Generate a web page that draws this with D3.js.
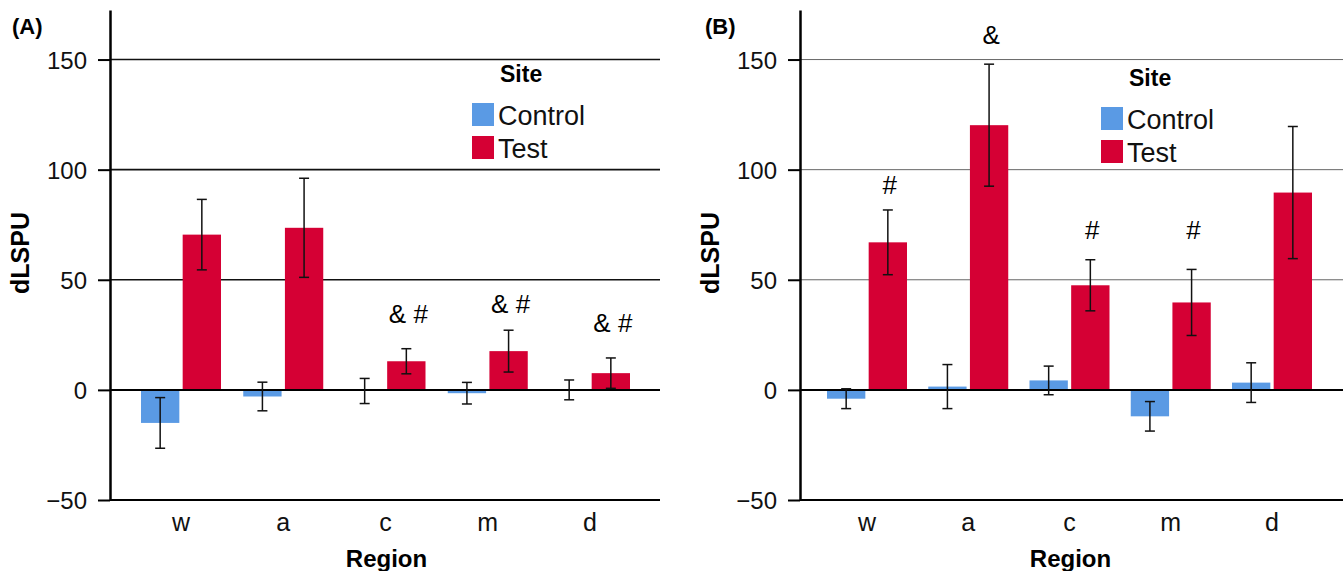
<!DOCTYPE html>
<meta charset="utf-8">
<script src="https://d3js.org/d3.v7.min.js"></script>
<style>
  body { margin: 0; background: #fff; }
  text { font-family: "Liberation Sans", Arial, sans-serif; }
</style>
<div id="my_dataviz"></div>
<script>

// data
var regions = ["w", "a", "c", "m", "d"];
var sites = ["Control", "Test"];
var yTicks = [-50, 0, 50, 100, 150];

// panel A
var controlA    = [-15, -3, -0.5, -1.5, 0];
var controlErrA = [11.5, 6.5, 5.7, 4.9, 4.5];
var testA       = [70.5, 73.6, 13, 17.6, 7.6];
var testErrA    = [16, 22.5, 5.7, 9.5, 6.9];
var marksA      = ["", "", "& #", "& #", "& #"];
var markLevelA  = [0, 0, 30.5, 35, 26.4];

// panel B
var controlB    = [-4, 1.5, 4.3, -12, 3.3];
var controlErrB = [4.5, 10, 6.5, 6.7, 9];
var testB       = [67, 120.2, 47.5, 39.7, 89.6];
var testErrB    = [14.7, 27.7, 11.6, 15, 30];
var marksB      = ["#", "&", "#", "#", ""];
var markLevelB  = [88.8, 157, 68.4, 68.4, 0];

var colors = {Control: "#5a9ae4", Test: "#d50034"};

var svg = d3.select("#my_dataviz")
  .append("svg")
    .attr("width", 1343)
    .attr("height", 571);

function drawPanel(p) {
  var g = svg.append("g");

  var y = d3.scaleLinear()
    .domain([-50, 172.5])
    .range([500, 10]);

  var x = d3.scalePoint()
    .domain(regions)
    .range([p.first, p.last]);

  var x1 = d3.scaleBand()
    .domain(sites)
    .range([-40, 40])
    .paddingInner(0.08);

  // horizontal grid lines
  g.append("g")
    .selectAll("line")
    .data([50, 100, 150])
    .enter()
    .append("line")
      .attr("x1", p.left).attr("x2", p.right)
      .attr("y1", function (d) { return y(d); })
      .attr("y2", function (d) { return y(d); })
      .attr("stroke", p.gridColor)
      .attr("stroke-width", p.gridWidth);

  // rows: one per region and site
  var rows = [];
  regions.forEach(function (r, i) {
    rows.push({region: r, site: "Control", v: p.control[i], e: p.controlErr[i]});
    rows.push({region: r, site: "Test", v: p.test[i], e: p.testErr[i]});
  });

  // bars
  g.append("g")
    .selectAll("rect")
    .data(rows)
    .enter()
    .append("rect")
      .attr("x", function (d) { return x(d.region) + x1(d.site); })
      .attr("width", x1.bandwidth())
      .attr("y", function (d) { return y(Math.max(0, d.v)); })
      .attr("height", function (d) { return Math.abs(y(d.v) - y(0)); })
      .attr("fill", function (d) { return colors[d.site]; });

  // zero line and bottom line
  g.append("g")
    .selectAll("line")
    .data([0, -50])
    .enter()
    .append("line")
      .attr("x1", p.left).attr("x2", p.right)
      .attr("y1", function (d) { return y(d); })
      .attr("y2", function (d) { return y(d); })
      .attr("stroke", "#000")
      .attr("stroke-width", 2);

  // error bars
  var eb = g.append("g")
    .selectAll("g")
    .data(rows)
    .enter()
    .append("g")
      .attr("transform", function (d) {
        return "translate(" + (x(d.region) + x1(d.site) + x1.bandwidth() / 2) + ",0)";
      });
  eb.append("line")
    .attr("y1", function (d) { return y(d.v + d.e); })
    .attr("y2", function (d) { return y(d.v - d.e); })
    .attr("stroke", "#111").attr("stroke-width", 1.5);
  eb.append("line")
    .attr("x1", -5).attr("x2", 5)
    .attr("y1", function (d) { return y(d.v + d.e); })
    .attr("y2", function (d) { return y(d.v + d.e); })
    .attr("stroke", "#111").attr("stroke-width", 1.5);
  eb.append("line")
    .attr("x1", -5).attr("x2", 5)
    .attr("y1", function (d) { return y(d.v - d.e); })
    .attr("y2", function (d) { return y(d.v - d.e); })
    .attr("stroke", "#111").attr("stroke-width", 1.5);

  // significance marks above the test bars
  g.append("g")
    .selectAll("text")
    .data(regions)
    .enter()
    .append("text")
      .attr("x", function (d) { return x(d) + x1("Test") + x1.bandwidth() / 2 + 2; })
      .attr("y", function (d, i) { return y(p.markLevel[i]); })
      .attr("text-anchor", "middle")
      .style("font-size", "26px")
      .text(function (d, i) { return p.marks[i]; });

  // Y axis
  var yAxis = g.append("g")
    .attr("transform", "translate(" + p.left + ",0)")
    .call(d3.axisLeft(y).tickValues(yTicks).tickSize(12).tickSizeOuter(0)
      .tickFormat(function (d) { return d < 0 ? "\u2212" + Math.abs(d) : d; }));
  yAxis.select(".domain").attr("stroke", "#000").attr("stroke-width", 2.5);
  yAxis.selectAll(".tick line").attr("stroke", "#000").attr("stroke-width", 2);
  yAxis.selectAll(".tick text")
    .attr("x", -23)
    .attr("dy", "0.36em")
    .style("font-family", "\"Liberation Sans\", Arial, sans-serif")
    .style("font-size", "24px")
    .attr("fill", "#111");

  // X labels
  g.append("g")
    .selectAll("text")
    .data(regions)
    .enter()
    .append("text")
      .attr("x", function (d) { return x(d); })
      .attr("y", 531)
      .attr("text-anchor", "middle")
      .style("font-size", "25px")
      .attr("fill", "#111")
      .text(function (d) { return d; });

  g.append("text")
    .attr("x", (p.first + p.last) / 2 + 1)
    .attr("y", 567)
    .attr("text-anchor", "middle")
    .style("font-size", "24px")
    .style("font-weight", "bold")
    .text("Region");

  g.append("text")
    .attr("transform", "translate(" + (p.left - 81) + ",253) rotate(-90)")
    .attr("text-anchor", "middle")
    .style("font-size", "25px")
    .style("font-weight", "bold")
    .text("dLSPU");

  // panel letter
  g.append("text")
    .attr("x", p.letterX)
    .attr("y", 34)
    .style("font-size", "22px")
    .style("font-weight", "bold")
    .text(p.letter);

  // legend
  var lg = g.append("g")
    .attr("transform", "translate(" + p.legendX + "," + p.legendY + ")");
  lg.append("text")
    .attr("x", 28).attr("y", 0)
    .style("font-size", "23px")
    .style("font-weight", "bold")
    .text("Site");
  var li = lg.selectAll("g")
    .data(sites)
    .enter()
    .append("g")
      .attr("transform", function (d, i) { return "translate(0," + (21 + i * 33) + ")"; });
  li.append("rect")
    .attr("width", 22).attr("height", 23)
    .attr("fill", function (d) { return colors[d]; });
  li.append("text")
    .attr("x", 26).attr("y", 22)
    .style("font-size", "27px")
    .attr("fill", "#111")
    .text(function (d) { return d; });
}

drawPanel({
  left: 110, right: 660, first: 181, last: 590,
  control: controlA, controlErr: controlErrA, test: testA, testErr: testErrA,
  marks: marksA, markLevel: markLevelA,
  gridColor: "#111", gridWidth: 1.6,
  letter: "(A)", letterX: 12, legendX: 472, legendY: 82
});

drawPanel({
  left: 800, right: 1343, first: 867, last: 1272,
  control: controlB, controlErr: controlErrB, test: testB, testErr: testErrB,
  marks: marksB, markLevel: markLevelB,
  gridColor: "#666", gridWidth: 1,
  letter: "(B)", letterX: 705, legendX: 1101, legendY: 86
});

</script>
